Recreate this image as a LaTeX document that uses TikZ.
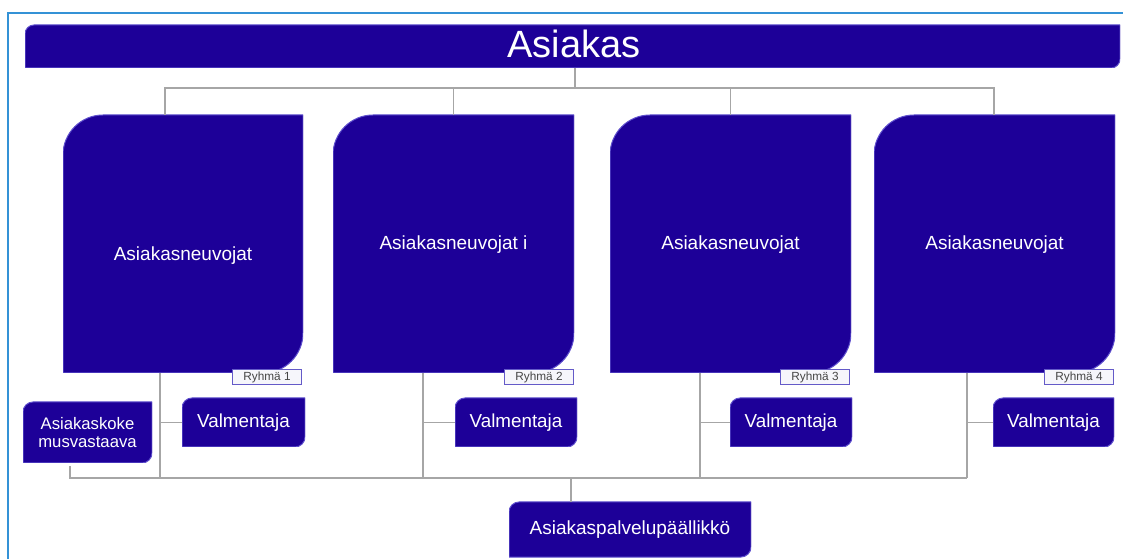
\documentclass[tikz,border=0pt]{standalone}
\usepackage{fontspec}
\setmainfont{Liberation Sans}
\usetikzlibrary{calc}
\definecolor{boxblue}{RGB}{29,0,152}
\definecolor{boxedge}{RGB}{95,80,205}
\definecolor{conngray}{RGB}{166,166,166}
\definecolor{framecol}{RGB}{52,146,214}
\definecolor{tagedge}{RGB}{100,90,200}
\definecolor{tagfill}{RGB}{246,246,251}
\definecolor{taggray}{RGB}{70,70,70}
\tikzset{
  corner/.style={inner sep=0pt, outer sep=0pt, path picture={
    \filldraw[fill=boxblue, draw=boxedge, line width=1pt]
      (path picture bounding box.south west)
      -- ([yshift=-#1]path picture bounding box.north west)
      arc[start angle=180, end angle=90, radius=#1]
      -- (path picture bounding box.north east)
      -- ([yshift=#1]path picture bounding box.south east)
      arc[start angle=0, end angle=-90, radius=#1]
      -- cycle;}},
  bigbox/.style={corner=40pt, minimum width=241pt, minimum height=258pt},
  bigtxt/.style={anchor=base, inner sep=0pt, text=white, font=\fontsize{19}{22}\selectfont},
  smallbox/.style={corner=10pt, minimum height=49pt, text=white, font=\fontsize{18.8}{22}\selectfont},
  tag/.style={draw=tagedge, fill=tagfill, line width=1pt, minimum width=69pt, minimum height=15pt,
    inner sep=0pt, text=taggray, font=\fontsize{11.8}{12}\selectfont, anchor=north east},
  conn/.style={draw=conngray, line width=1.5pt}
}
\begin{document}
\begin{tikzpicture}[x=1pt,y=1pt]
\useasboundingbox (0,0) rectangle (1123,559);
% frame
\draw[framecol, line width=2pt] (8,0) -- (8,546) -- (1123,546);

% title
\node[corner=9pt, minimum width=1095pt, minimum height=43pt] (title) at (572.5,512.5) {};
\node[anchor=base, inner sep=0pt, text=white, font=\fontsize{38}{44}\selectfont] (titletxt) at (574,501.5) {Asiakas};

% big boxes
\node[bigbox, minimum width=240pt] (b1) at (183,315) {};
\node[bigbox] (b2) at (453.5,315) {};
\node[bigbox] (b3) at (730.5,315) {};
\node[bigbox] (b4) at (994.5,315) {};
\node[bigtxt] (t1) at (183,298) {Asiakasneuvojat};
\node[bigtxt] (t2) at (453.5,309) {Asiakasneuvojat i};
\node[bigtxt] (t3) at (730.5,309) {Asiakasneuvojat};
\node[bigtxt] (t4) at (994.5,309) {Asiakasneuvojat};

% group tags
\node[tag] (r1) at ([xshift=-1pt,yshift=4pt]b1.south east) {Ryhmä 1};
\node[tag] (r2) at ([xshift=0pt,yshift=4pt]b2.south east) {Ryhmä 2};
\node[tag] (r3) at ([xshift=-1pt,yshift=4pt]b3.south east) {Ryhmä 3};
\node[tag] (r4) at ([xshift=-1pt,yshift=4pt]b4.south east) {Ryhmä 4};

% coaches
\node[smallbox, minimum width=123pt] (v1) at (243.5,136.5) {Valmentaja};
\node[smallbox, minimum width=122pt] (v2) at (516,136.5) {Valmentaja};
\node[smallbox, minimum width=122pt] (v3) at (791,136.5) {Valmentaja};
\node[smallbox, minimum width=121pt] (v4) at (1053.5,136.5) {Valmentaja};

% customer experience
\node[corner=10pt, minimum width=129pt, minimum height=61pt, text=white, align=center,
  font=\fontsize{16.7}{18}\selectfont] (ak) at (87.5,126.5) {Asiakaskoke\\musvastaava};

% manager
\node[corner=10pt, minimum width=242pt, minimum height=55pt, text=white,
  font=\fontsize{19}{22}\selectfont] (pm) at (630,29.5) {Asiakaspalvelupäällikkö};

% top connectors
\coordinate (bus) at (575,471);
\draw[conn] ([xshift=2.5pt]title.south) -- ([xshift=2.5pt]title.south |- bus);
\draw[conn] ([xshift=-18pt]b1.north) -- ([xshift=-18pt]b1.north |- bus)
  -- ([xshift=-0.5pt]b4.north |- bus) -- ([xshift=-0.5pt]b4.north);
\draw[conn] (b2.north) -- (b2.north |- bus);
\draw[conn] (b3.north) -- (b3.north |- bus);

% lower connectors
\coordinate (lbus) at (571,81);
\coordinate (l1) at ([xshift=-23pt]b1.south);
\coordinate (l2) at ([xshift=-30.5pt]b2.south);
\coordinate (l3) at ([xshift=-30.5pt]b3.south);
\coordinate (l4) at ([xshift=-27.5pt]b4.south);
\draw[conn] (l1) -- (l1 |- lbus);
\draw[conn] (l2) -- (l2 |- lbus);
\draw[conn] (l3) -- (l3 |- lbus);
\draw[conn] (l4) -- (l4 |- lbus);
\draw[conn] (v1.west) -- (v1.west -| l1);
\draw[conn] (v2.west) -- (v2.west -| l2);
\draw[conn] (v3.west) -- (v3.west -| l3);
\draw[conn] (v4.west) -- (v4.west -| l4);
\draw[conn] ([xshift=-17.5pt,yshift=-3pt]ak.south) -- ([xshift=-17.5pt]ak.south |- lbus) -- (l4 |- lbus);
\draw[conn] ([xshift=-59pt]pm.north) -- ([xshift=-59pt]pm.north |- lbus);
\end{tikzpicture}
\end{document}
